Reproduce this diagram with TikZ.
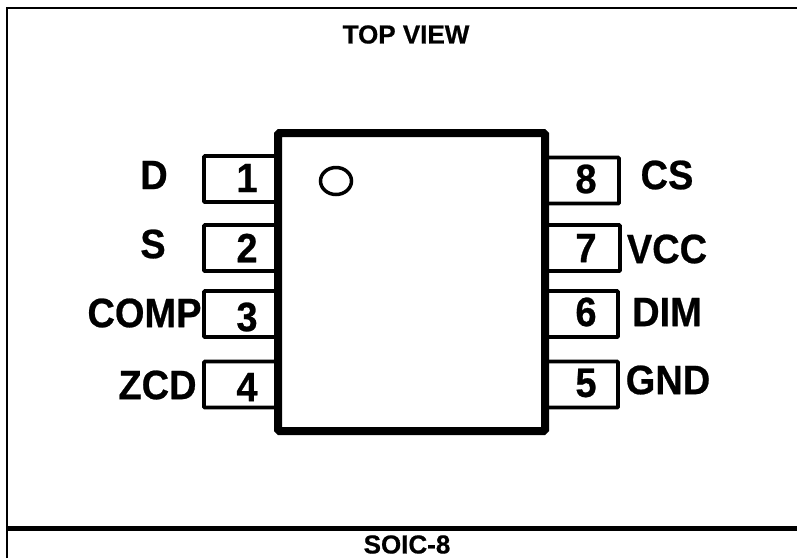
\documentclass[tikz,border=0pt]{standalone}
\usepackage{fontspec}
\setmainfont[BoldFeatures={FakeBold=0.6}]{Liberation Sans}
\usetikzlibrary{positioning,shapes.geometric}

\begin{document}
\begin{tikzpicture}[
  x=1pt, y=-1pt,
  pinbox/.style={rectangle, draw, line width=3.6pt, rounded corners=0.8pt, minimum width=74pt, minimum height=46pt, inner sep=0pt},
  chipbody/.style={rectangle, draw, line width=8pt, rounded corners=1.5pt, minimum width=267pt, minimum height=298pt, inner sep=0pt},
  dotmark/.style={ellipse, draw, line width=3.5pt, minimum width=31pt, minimum height=27pt, inner sep=0pt},
  pinlabel/.style={inner sep=0pt, yscale=1.08, font=\fontsize{38}{40}\selectfont\bfseries},
  pinnum/.style={pinlabel},
  title/.style={inner sep=0pt, font=\fontsize{26}{28}\selectfont\bfseries}
]
  \useasboundingbox (0,0) rectangle (797,558);
  % Frame
  \coordinate (ftl) at (7,8);
  \coordinate (ftr) at (797,8);
  \coordinate (fbl) at (7,558);
  \coordinate (sl) at (7,528);
  \coordinate (sr) at (797,528);
  \draw[line width=2pt] (fbl) -- (ftl) -- (ftr);
  \draw[line width=5pt] (sl) -- (sr);

  % Left pins
  \node[pinbox] (b1) at (241,179) {};
  \node[pinbox] (b2) at (241,248) {};
  \node[pinbox] (b3) at (241,314) {};
  \node[pinbox] (b4) at (241,384.5) {};
  % Right pins
  \node[pinbox, minimum width=74pt] (b8) at (582,180.5) {};
  \node[pinbox, minimum width=75pt] (b7) at (582.5,248) {};
  \node[pinbox, minimum width=73pt] (b6) at (581.5,314) {};
  \node[pinbox, minimum width=73pt] (b5) at (581.5,384.5) {};

  % Package
  \node[chipbody] (body) at (411.5,282) {};
  \node[dotmark] (dot) at (336,181) {};

  % Pin numbers
  \node[pinnum] (n1) at (247,178) {1};
  \node[pinnum] (n2) at (247,248) {2};
  \node[pinnum] (n3) at (247,317) {3};
  \node[pinnum] (n4) at (247,387) {4};
  \node[pinnum] (n5) at (586,383) {5};
  \node[pinnum] (n6) at (586,312) {6};
  \node[pinnum] (n7) at (586,248) {7};
  \node[pinnum] (n8) at (586,179) {8};

  % Labels
  \node[pinlabel] (lD) at (154,175) {D};
  \node[pinlabel] (lS) at (153,244) {S};
  \node[pinlabel] (lCOMP) at (144.5,313) {COMP};
  \node[pinlabel] (lZCD) at (157.5,385) {ZCD};
  \node[pinlabel] (lCS) at (667,175) {CS};
  \node[pinlabel] (lVCC) at (667,249) {VCC};
  \node[pinlabel] (lDIM) at (667,312) {DIM};
  \node[pinlabel] (lGND) at (668,380) {GND};

  \node[title] (top) at (406,34.5) {TOP VIEW};
  \node[title] (pkg) at (407,544.5) {SOIC-8};
\end{tikzpicture}
\end{document}
